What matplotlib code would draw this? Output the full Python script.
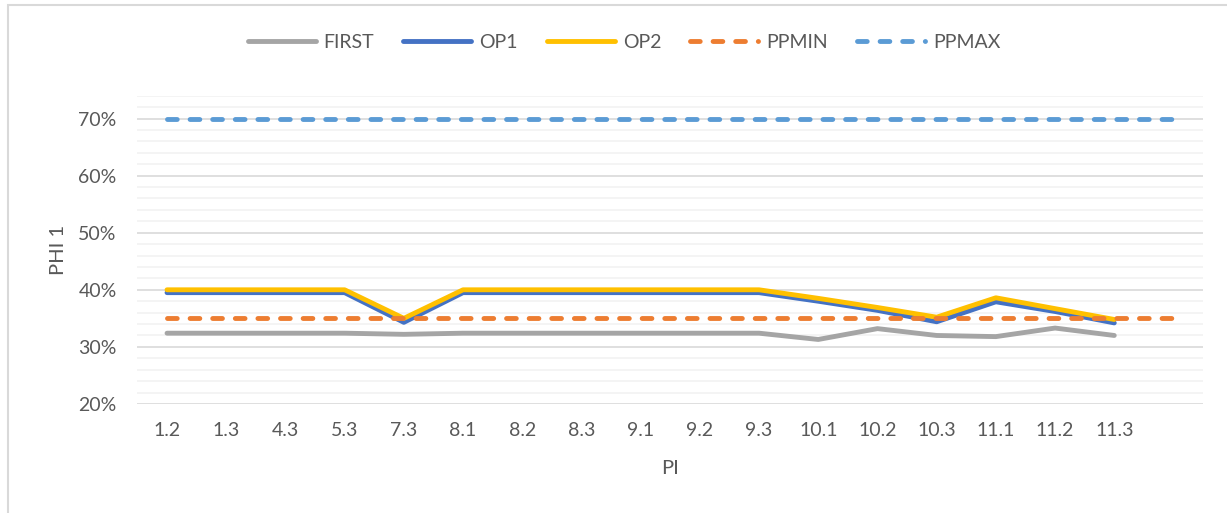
import numpy as np
import matplotlib.pyplot as plt
from matplotlib.patches import Rectangle
from matplotlib.ticker import MultipleLocator, PercentFormatter

pi_labels = ["1.2", "1.3", "4.3", "5.3", "7.3", "8.1", "8.2", "8.3", "9.1",
             "9.2", "9.3", "10.1", "10.2", "10.3", "11.1", "11.2", "11.3", ""]

first = [0.324, 0.324, 0.324, 0.324, 0.322, 0.324, 0.324, 0.324, 0.324,
         0.324, 0.324, 0.313, 0.332, 0.320, 0.318, 0.333, 0.320]
op1 = [0.395, 0.395, 0.395, 0.395, 0.343, 0.395, 0.395, 0.395, 0.395,
       0.395, 0.395, 0.380, 0.364, 0.344, 0.379, 0.362, 0.342]
op2 = [0.400, 0.400, 0.400, 0.400, 0.350, 0.400, 0.400, 0.400, 0.400,
       0.400, 0.400, 0.385, 0.369, 0.352, 0.386, 0.367, 0.348]
ppmin = [0.35] * 18
ppmax = [0.70] * 18

plt.rcParams["font.family"] = ["Lato", "DejaVu Sans"]
text_color = "#595959"

fig = plt.figure(figsize=(12.27, 5.13), dpi=100)
ax = fig.add_axes([0.112, 0.2125, 0.8685, 0.601])

# chart frame
fig.patches.append(Rectangle((7.5 / 1227, -0.1), 1.2, 1.1 - 5 / 513,
                             transform=fig.transFigure, fill=False,
                             edgecolor="#D9D9D9", linewidth=1.5))

lw = 3.5
dash = (0, (2.0, 2.65))
x_short = np.arange(len(first))
x_full = np.arange(len(ppmin))

ax.plot(x_short, first, color="#A5A5A5", lw=lw, solid_capstyle="round",
        solid_joinstyle="round", label="FIRST", zorder=3)
ax.plot(x_short, op1, color="#4472C4", lw=lw, solid_capstyle="round",
        solid_joinstyle="round", label="OP1", zorder=4)
ax.plot(x_short, op2, color="#FFC000", lw=lw, solid_capstyle="round",
        solid_joinstyle="round", label="OP2", zorder=5)
ax.plot(x_full, ppmin, color="#ED7D31", lw=lw, ls=dash,
        dash_capstyle="round", label="PPMIN", zorder=6)
ax.plot(x_full, ppmax, color="#5B9BD5", lw=lw, ls=dash,
        dash_capstyle="round", label="PPMAX", zorder=6)

ax.set_xlim(-0.5, len(pi_labels) - 0.5)
ax.set_ylim(0.2, 0.74)
ax.set_xticks(x_full)
ax.set_xticklabels(pi_labels)
ax.yaxis.set_major_locator(MultipleLocator(0.1))
ax.yaxis.set_minor_locator(MultipleLocator(0.02))
ax.yaxis.set_major_formatter(PercentFormatter(1.0, decimals=0))

ax.grid(which="minor", axis="y", color="#F2F2F2", lw=1.2, zorder=0)
ax.grid(which="major", axis="y", color="#D9D9D9", lw=1.2, zorder=1)
ax.set_axisbelow(True)
for s in ax.spines.values():
    s.set_visible(False)
ax.tick_params(which="both", length=0, labelsize=14, colors=text_color)
ax.tick_params(axis="y", pad=15)
ax.tick_params(axis="x", pad=13)

ax.set_xlabel("PI", fontsize=14.5, color=text_color, labelpad=15)
ax.set_ylabel("PHI 1", fontsize=14.5, color=text_color, labelpad=8)

fig.legend(loc="center", bbox_to_anchor=(624 / 1227, 1 - 42 / 513), ncol=5,
           frameon=False, fontsize=14, labelcolor=text_color,
           handlelength=3.5, handletextpad=0.4, columnspacing=1.5)

fig.savefig("out.png", dpi=100)
